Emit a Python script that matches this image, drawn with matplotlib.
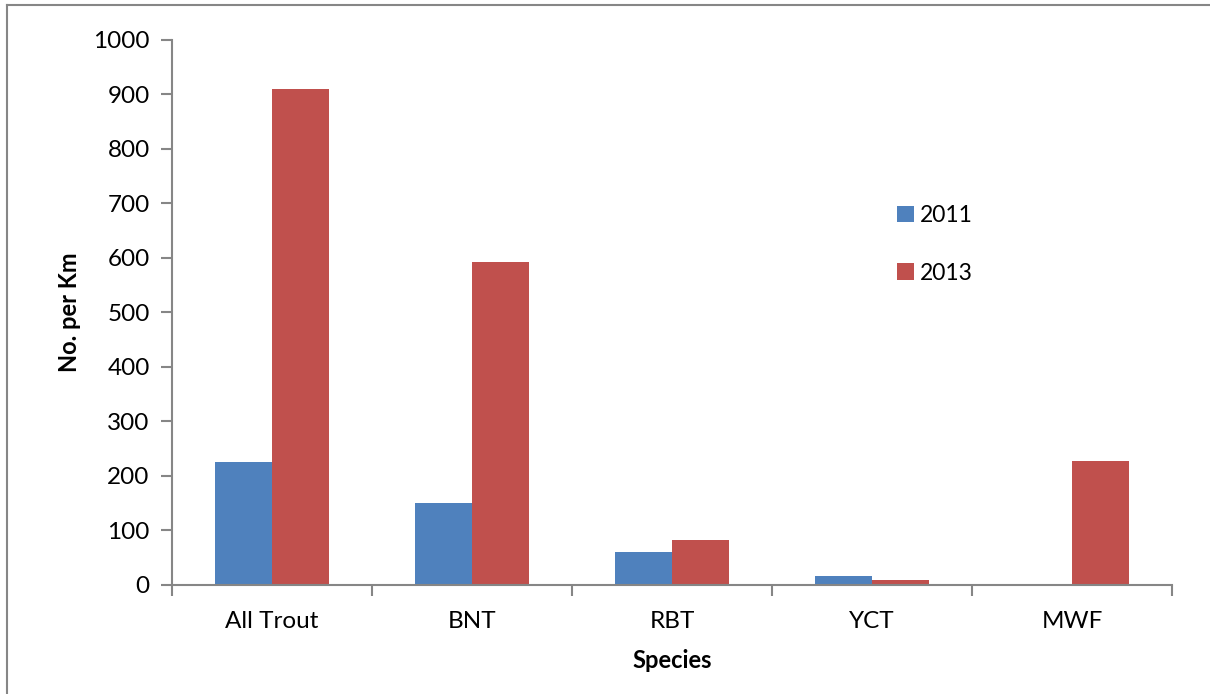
import matplotlib
matplotlib.use("Agg")
import matplotlib.pyplot as plt
import numpy as np
from matplotlib.lines import Line2D

plt.rcParams['font.family'] = ['Lato', 'DejaVu Sans']

species = ["All Trout", "BNT", "RBT", "YCT", "MWF"]
years = ["2011", "2013"]
density_2011 = [226, 150, 61, 17, 0]
density_2013 = [910, 592, 83, 9, 228]
yticks = [0, 100, 200, 300, 400, 500, 600, 700, 800, 900, 1000]

BLUE = "#4F81BD"
RED = "#C0504D"
AXIS = "#868686"

fig = plt.figure(figsize=(12.1, 6.94), dpi=100)
ax = fig.add_axes([0.1421, 0.1571, 0.8265, 0.7853])

x = np.arange(len(species))
w = 0.285
ax.bar(x - w / 2, density_2011, w, color=BLUE, label=years[0])
ax.bar(x + w / 2, density_2013, w, color=RED, label=years[1])

ax.set_xlim(-0.5, len(species) - 0.5)
ax.set_ylim(0, 1000)
ax.set_yticks(yticks)
ax.set_xticks(x)
ax.set_xticklabels(species)
ax.set_xticks(np.arange(len(species) + 1) - 0.5, minor=True)

for s in ("top", "right"):
    ax.spines[s].set_visible(False)
for s in ("left", "bottom"):
    ax.spines[s].set_color(AXIS)
    ax.spines[s].set_linewidth(1.5)

ax.tick_params(axis="y", direction="out", length=8, width=1.5, color=AXIS,
               labelsize=17.5, pad=8)
ax.tick_params(axis="x", which="major", length=0, labelsize=17.5, pad=19)
ax.tick_params(axis="x", which="minor", direction="out", length=8, width=1.5,
               color=AXIS)

ax.set_ylabel("No. per Km", fontsize=17, fontweight="bold", labelpad=9)
ax.set_xlabel("Species", fontsize=17, fontweight="bold", labelpad=12)

ax.legend(loc="center left", bbox_to_anchor=(0.724, 0.648),
          bbox_transform=fig.transFigure, frameon=False, fontsize=16.5,
          handlelength=0.75, handleheight=0.75, handletextpad=0.25,
          labelspacing=1.6)

# outer chart-area border
fig.add_artist(Line2D([7 / 1210, 1.0], [1 - 5 / 694, 1 - 5 / 694],
                      transform=fig.transFigure, color=AXIS, lw=1.5))
fig.add_artist(Line2D([7 / 1210, 7 / 1210], [0.0, 1 - 5 / 694],
                      transform=fig.transFigure, color=AXIS, lw=1.5))

fig.savefig("out.png", dpi=100)
